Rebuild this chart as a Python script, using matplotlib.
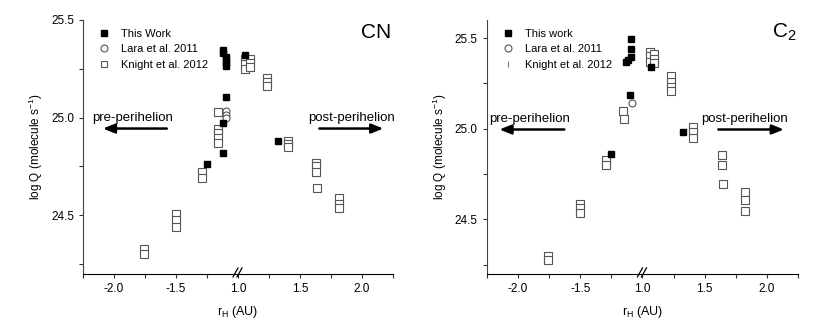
import matplotlib.pyplot as plt
from matplotlib.lines import Line2D

plt.rcParams['font.family'] = ['Liberation Sans', 'DejaVu Sans']
plt.rcParams['mathtext.default'] = 'regular'
plt.rcParams['axes.unicode_minus'] = False

# CN panel (r_H < 0 : pre-perihelion)
cn_this_r = [-1.125, -1.12, -1.10, -1.10, -1.10, -1.10, -1.093, -1.117, -1.121, -1.252, 1.055, 1.32]
cn_this_q = [25.345, 25.33, 25.31, 25.295, 25.28, 25.265, 25.105, 24.97, 24.818, 24.765, 25.32, 24.878]
cn_lara_r = [-1.093, -1.093, -1.093]
cn_lara_q = [25.035, 25.015, 24.998]
cn_knight_r = [-1.164, -1.159, -1.159, -1.159, -1.159, -1.294, -1.294, -1.50, -1.50, -1.50,
               -1.759, -1.759, 1.06, 1.06, 1.06, 1.095, 1.095, 1.095, 1.233, 1.233, 1.233,
               1.405, 1.405, 1.405, 1.63, 1.63, 1.63, 1.635, 1.815, 1.815, 1.815]
cn_knight_q = [25.03, 24.943, 24.921, 24.895, 24.870, 24.72, 24.69, 24.507, 24.478, 24.442,
               24.327, 24.30, 25.30, 25.275, 25.25, 25.30, 25.28, 25.26, 25.205, 25.18, 25.16,
               24.88, 24.865, 24.85, 24.77, 24.75, 24.72, 24.64, 24.59, 24.56, 24.535]

# C2 panel
c2_this_r = [-1.094, -1.094, -1.095, -1.115, -1.13, -1.099, -1.254, 1.067, 1.327]
c2_this_q = [25.496, 25.437, 25.395, 25.38, 25.37, 25.184, 24.862, 25.34, 24.98]
c2_lara_r = [-1.088]
c2_lara_q = [25.143]
c2_knight_r = [-1.155, -1.152, -1.294, -1.294, -1.50, -1.50, -1.50, -1.762, -1.762,
               1.059, 1.059, 1.059, 1.094, 1.094, 1.094, 1.228, 1.228, 1.228, 1.228,
               1.407, 1.407, 1.407, 1.637, 1.637, 1.645, 1.824, 1.824, 1.824]
c2_knight_q = [25.10, 25.055, 24.83, 24.80, 24.587, 24.565, 24.535, 24.30, 24.275,
               25.425, 25.40, 25.37, 25.41, 25.385, 25.36, 25.29, 25.26, 25.23, 25.21,
               25.01, 24.98, 24.95, 24.853, 24.80, 24.693, 24.65, 24.605, 24.546]

fig = plt.figure(figsize=(8.3, 3.32), dpi=100)
BOT, TOP = 0.175, 0.94
XL, XR = (-2.25, -1.02), (0.98, 2.25)
frac = (XL[1] - XL[0]) / (XL[1] - XL[0] + XR[1] - XR[0])


def split(r, q, neg):
    pts = [(a, b) for a, b in zip(r, q) if (a < 0) == neg]
    return [p[0] for p in pts], [p[1] for p in pts]


def panel(x0, x1, ylim, this, lara, knight, title, this_label, knight_leg, pre, post):
    w = x1 - x0
    axL = fig.add_axes([x0, BOT, w * frac, TOP - BOT])
    axR = fig.add_axes([x0 + w * frac, BOT, w * (1 - frac), TOP - BOT], sharey=axL)
    for ax, xl, neg in [(axL, XL, True), (axR, XR, False)]:
        ax.set_xlim(*xl)
        ax.patch.set_alpha(0)
        for s in ['top', 'right']:
            ax.spines[s].set_visible(False)
        ax.spines['bottom'].set_linewidth(0.8)
        ax.spines['left'].set_linewidth(0.8)
        ax.spines['left'].set_color('#444444')
        kr, kq = split(*knight, neg)
        ax.plot(kr, kq, 's', mfc='white', mec='#555555', mew=0.8, ms=5.5, ls='none', clip_on=False)
        lr, lq = split(*lara, neg)
        ax.plot(lr, lq, 'o', mfc='white', mec='#555555', mew=0.8, ms=5, ls='none', clip_on=False)
        tr, tq = split(*this, neg)
        ax.plot(tr, tq, 's', color='black', ms=5, ls='none', clip_on=False)
        ax.tick_params(labelsize=8.5, length=3, width=0.8, color='#333333')
        ax.tick_params(which='minor', length=3, width=0.8, color='#333333')
    axR.spines['left'].set_visible(False)
    axR.tick_params(axis='y', which='both', left=False, labelleft=False)
    axL.set_xticks([-2.0, -1.5])
    axL.set_xticks([-2.25, -1.75, -1.25], minor=True)
    axR.set_xticks([1.0, 1.5, 2.0])
    axR.set_xticks([1.25, 1.75, 2.25], minor=True)
    axL.set_ylim(*ylim)
    axL.set_yticks([24.5, 25.0, 25.5])
    axL.set_yticks([24.25, 24.75, 25.25], minor=True)

    # break marks "//"
    wpx = w * (1 - frac) * 830
    hpx = (TOP - BOT) * 332
    for off in (-2.5, 1.5):
        axR.plot([off / wpx, (off + 5) / wpx], [-3 / hpx, 6 / hpx], transform=axR.transAxes,
                 color='black', lw=0.9, clip_on=False)

    arrow = dict(arrowstyle='-|>,head_length=0.7,head_width=0.28', color='black', lw=1.8,
                 shrinkA=0, shrinkB=0)
    axL.annotate('', xy=(pre[0], pre[3]), xytext=(pre[1], pre[3]), arrowprops=arrow)
    axL.text(pre[2], pre[4], 'pre-perihelion', ha='center', va='center', fontsize=9.5)
    axR.annotate('', xy=(post[1], post[3]), xytext=(post[0], post[3]), arrowprops=arrow)
    axR.text(post[2], post[4], 'post-perihelion', ha='center', va='center', fontsize=9.5)

    axR.text(0.99, 0.95, title, transform=axR.transAxes, ha='right', va='center', fontsize=15)

    handles = [
        Line2D([], [], marker='s', color='black', ls='none', ms=4.5),
        Line2D([], [], marker='o', mfc='white', mec='#555555', mew=0.8, ls='none', ms=5),
        knight_leg,
    ]
    axL.legend(handles, [this_label, 'Lara et al. 2011', 'Knight et al. 2012'],
               loc='upper left', bbox_to_anchor=(0.03, 1.005), frameon=False, fontsize=8,
               handletextpad=0.9, labelspacing=0.5, handlelength=1.2)

    fig.text(x0 - 0.057, (BOT + TOP) / 2, 'log Q (molecule s$^{-1}$)', rotation=90,
             ha='center', va='center', fontsize=8.5)
    fig.text(x0 + w / 2, 0.06, 'r$_{H}$ (AU)', ha='center', va='center', fontsize=9)
    return axL, axR


panel(0.1, 0.4735,
      (24.2, 25.5),
      (cn_this_r, cn_this_q), (cn_lara_r, cn_lara_q), (cn_knight_r, cn_knight_q),
      'CN', 'This Work',
      Line2D([], [], marker='s', mfc='white', mec='#555555', mew=0.8, ls='none', ms=5),
      (-2.09, -1.574, -1.85, 24.944, 25.0), (1.656, 2.172, 1.915, 24.944, 25.0))
panel(0.5867, 0.9614,
      (24.2, 25.6),
      (c2_this_r, c2_this_q), (c2_lara_r, c2_lara_q), (c2_knight_r, c2_knight_q),
      'C$_2$', 'This work',
      Line2D([], [], marker='|', color='#777777', mew=0.8, ls='none', ms=5),
      (-2.15, -1.628, -1.905, 24.996, 25.055), (1.61, 2.137, 1.824, 24.996, 25.055))

fig.savefig('out.png', dpi=100)
